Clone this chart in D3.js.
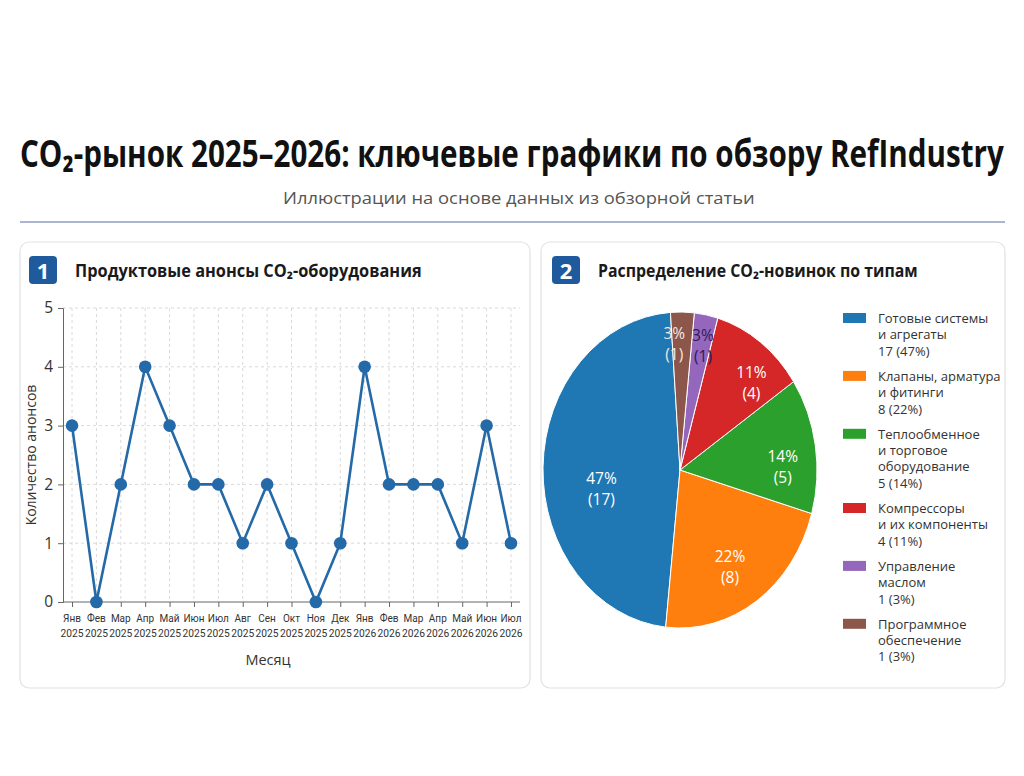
<!DOCTYPE html>
<html><head><meta charset="utf-8">
<script src="https://cdn.jsdelivr.net/npm/d3@7/dist/d3.min.js"></script>
<style>
html,body{margin:0;padding:0;background:#ffffff;}
svg{display:block;font-family:"Open Sans","Noto Sans",sans-serif;}
</style></head>
<body>
<svg id="c" width="1024" height="776"></svg>
<script>
// ---- data ----
const months = ["Янв","Фев","Мар","Апр","Май","Июн","Июл","Авг","Сен","Окт","Ноя","Дек","Янв","Фев","Мар","Апр","Май","Июн","Июл"];
const years  = ["2025","2025","2025","2025","2025","2025","2025","2025","2025","2025","2025","2025","2026","2026","2026","2026","2026","2026","2026"];
const announcements = [3,0,2,4,3,2,2,1,2,1,0,1,4,2,2,2,1,3,1];
const yTicks = [0,1,2,3,4,5];

const categories = [
  ["Готовые системы","и агрегаты"],
  ["Клапаны, арматура","и фитинги"],
  ["Теплообменное","и торговое","оборудование"],
  ["Компрессоры","и их компоненты"],
  ["Управление","маслом"],
  ["Программное","обеспечение"]
];
const counts = [17,8,5,4,1,1];
const colors = ["#1f77b4","#ff7f0e","#2ca02c","#d62728","#9467bd","#8c564b"];

const titleText = "CO₂-рынок 2025–2026: ключевые графики по обзору RefIndustry";
const subtitleText = "Иллюстрации на основе данных из обзорной статьи";
const panel1Title = "Продуктовые анонсы CO₂-оборудования";
const panel2Title = "Распределение CO₂-новинок по типам";

const svg = d3.select("#c");

function fitText(sel, x, y, width, anchor){
  const w = sel.node().getComputedTextLength();
  const k = width / w;
  let x0 = anchor==="middle" ? x - width/2 : x;
  sel.attr("text-anchor","start").attr("x",0).attr("y",0)
     .attr("transform",`translate(${x0},${y}) scale(${k},1)`);
}

// ---- header ----
const tt = svg.append("text").attr("font-size",37).attr("font-weight",700).attr("fill","#111").text(titleText);
fitText(tt,512,167,984,"middle");
const st = svg.append("text").attr("font-size",16.5).attr("fill","#555").text(subtitleText);
fitText(st,519,204,472,"middle");
svg.append("line").attr("x1",20).attr("x2",1005).attr("y1",222).attr("y2",222)
  .attr("stroke","#aab6cf").attr("stroke-width",2);

// ---- panels ----
[[20,242,510,446],[541,242,464,446]].forEach(p=>{
  svg.append("rect").attr("x",p[0]).attr("y",p[1]).attr("width",p[2]).attr("height",p[3])
    .attr("rx",9).attr("fill","#fff").attr("stroke","#e2e2e2").attr("stroke-width",1.2);
});
function badge(x,num,title,tlen){
  svg.append("rect").attr("x",x).attr("y",256).attr("width",28).attr("height",28).attr("rx",4).attr("fill","#1f5a9c");
  svg.append("text").attr("x",x+14).attr("y",279).attr("text-anchor","middle").attr("font-size",22)
    .attr("font-weight",700).attr("fill","#fff").text(num);
  const t = svg.append("text").attr("font-size",17.5).attr("font-weight",700).attr("fill","#1a1a1a").text(title);
  fitText(t,x+46,277,tlen,"start");
}
badge(29,"1",panel1Title,347);
badge(552,"2",panel2Title,320);

// ---- line chart ----
const x = d3.scalePoint().domain(d3.range(months.length)).range([63,520]).padding(0.37);
const y = d3.scaleLinear().domain([0,5]).range([602,308]);
const g1 = svg.append("g");
g1.append("g").selectAll("line").data(d3.range(months.length)).join("line")
  .attr("x1",d=>x(d)).attr("x2",d=>x(d)).attr("y1",y(5)).attr("y2",y(0))
  .attr("stroke","#d9d9d9").attr("stroke-dasharray","3,3");
g1.append("g").selectAll("line").data(yTicks.filter(d=>d>0)).join("line")
  .attr("x1",63).attr("x2",520).attr("y1",d=>y(d)).attr("y2",d=>y(d))
  .attr("stroke","#d9d9d9").attr("stroke-dasharray","3,3");
const yAxis = g1.append("g").attr("transform","translate(63,0)")
  .call(d3.axisLeft(y).tickValues(yTicks).tickFormat(d3.format("d")).tickSize(5).tickPadding(5));
yAxis.selectAll("text").attr("font-size",15.5).attr("fill","#333").attr("font-family","Open Sans");
yAxis.selectAll("line,path").attr("stroke","#666");
const xAxis = g1.append("g").attr("transform","translate(0,602)")
  .call(d3.axisBottom(x).tickFormat(()=>"" ).tickSize(5));
xAxis.select("path").attr("d","M63,0H520").attr("stroke","#666");
xAxis.selectAll("line").attr("stroke","#666");
xAxis.selectAll(".tick text").remove();
const xl = g1.append("g");
xl.selectAll("text.m").data(d3.range(months.length)).join("text").attr("class","m")
  .attr("x",d=>x(d)).attr("y",622).attr("text-anchor","middle").attr("font-size",10).attr("fill","#333")
  .attr("font-family","Roboto").text(d=>months[d]);
xl.selectAll("text.yr").data(d3.range(months.length)).join("text").attr("class","yr")
  .attr("x",d=>x(d)).attr("y",637).attr("text-anchor","middle").attr("font-size",10.5).attr("fill","#333")
  .attr("font-family","Roboto").attr("textLength",23).attr("lengthAdjust","spacingAndGlyphs").text(d=>years[d]);
svg.append("text").attr("x",268).attr("y",665).attr("text-anchor","middle").attr("font-size",14.5)
  .attr("fill","#333").text("Месяц");
svg.append("text").attr("transform","translate(36,455) rotate(-90)").attr("text-anchor","middle")
  .attr("font-size",14).attr("fill","#333").text("Количество анонсов");
const lineColor = "#2469a8";
g1.append("path").datum(announcements)
  .attr("d",d3.line().x((d,i)=>x(i)).y(d=>y(d)))
  .attr("fill","none").attr("stroke",lineColor).attr("stroke-width",2.6);
g1.selectAll("circle").data(announcements).join("circle")
  .attr("cx",(d,i)=>x(i)).attr("cy",d=>y(d)).attr("r",6.3).attr("fill",lineColor);

// ---- pie ----
const cx = 680, cy = 470, rx = 137, ry = 158;
const total = d3.sum(counts);
const deg = Math.PI/180;
const rot = -4*deg;
const pie = d3.pie().sort(null).startAngle(rot).endAngle(rot-2*Math.PI);
const arcs = pie(counts);
const arcGen = d3.arc().innerRadius(0).outerRadius(rx);
const pg = svg.append("g").attr("transform",`translate(${cx},${cy}) scale(1,${ry/rx})`);
pg.selectAll("path").data(arcs).join("path")
  .attr("d",arcGen).attr("fill",(d,i)=>colors[i])
  .attr("stroke","#fff").attr("stroke-width",1).attr("vector-effect","non-scaling-stroke");
const labelColors = ["#fff","#fff","#fff","#fff","#2a1a5e","#f3e8e0"];
const labelNudge = [-12,3,7,7,1,-4]; // degrees
arcs.forEach((a,i)=>{
  const frac = counts[i]/total;
  const rr = 0.82 - 0.5*frac;
  const mid = (a.startAngle+a.endAngle)/2 + labelNudge[i]*deg;
  const lx = cx + Math.sin(mid)*rx*rr;
  const ly = cy - Math.cos(mid)*ry*rr;
  const pct = Math.round(frac*100)+"%";
  const t = svg.append("text").attr("text-anchor","middle").attr("font-size",15.5).attr("fill",labelColors[i]);
  t.append("tspan").attr("x",lx).attr("y",ly-4).text(pct);
  t.append("tspan").attr("x",lx).attr("y",ly+17).text("("+counts[i]+")");
});

// ---- legend ----
let ly0 = 318;
const lg = svg.append("g");
categories.forEach((lines,i)=>{
  lg.append("rect").attr("x",843).attr("y",ly0-5).attr("width",23).attr("height",10).attr("fill",colors[i]);
  const t = lg.append("text").attr("font-size",13).attr("fill","#333");
  const all = lines.concat([counts[i]+" ("+Math.round(counts[i]/total*100)+"%)"]);
  all.forEach((s,j)=>{
    t.append("tspan").attr("x",878).attr("y",ly0+5+j*16.3).text(s);
  });
  ly0 += all.length*16.3 + 9;
});
</script>
</body></html>
